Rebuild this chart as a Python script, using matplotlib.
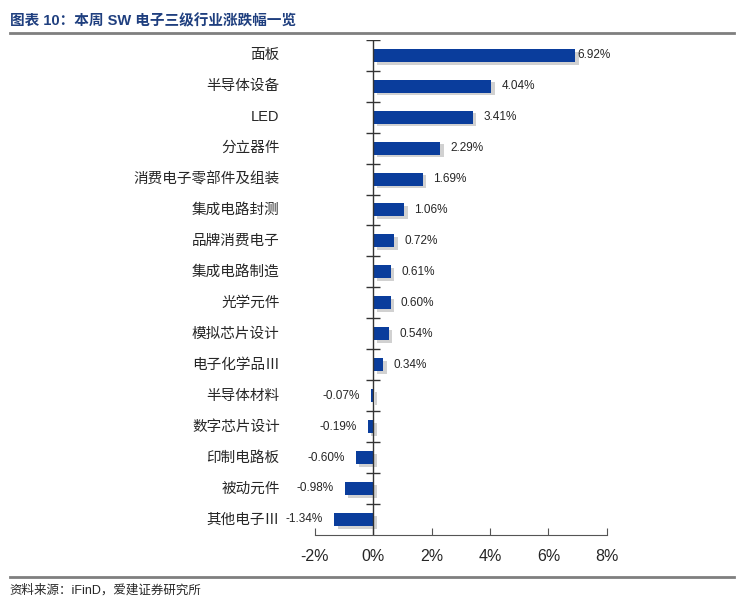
import matplotlib.pyplot as plt
import matplotlib.patheffects as pe
import numpy as np

plt.rcParams['font.family'] = ['Liberation Sans', 'Noto Sans CJK SC', 'DejaVu Sans']

# Datos del grafico
categorias = ['面板', '半导体设备', 'LED', '分立器件', '消费电子零部件及组装', '集成电路封测',
              '品牌消费电子', '集成电路制造', '光学元件', '模拟芯片设计', '电子化学品Ⅲ',
              '半导体材料', '数字芯片设计', '印制电路板', '被动元件', '其他电子Ⅲ']
valores = [6.92, 4.04, 3.41, 2.29, 1.69, 1.06, 0.72, 0.61, 0.60, 0.54, 0.34,
           -0.07, -0.19, -0.60, -0.98, -1.34]
xticks = [-2, 0, 2, 4, 6, 8]

azul = '#0a3d9c'
texto = '#262626'

fig = plt.figure(figsize=(7.53, 6.03), dpi=100)
ax = fig.add_axes([0.418, 0.113, 0.388, 0.821])

y = np.arange(len(categorias))
barras = ax.barh(y, valores, height=0.42, color=azul, zorder=3)
for b in barras:
    b.set_path_effects([pe.SimplePatchShadow(offset=(2.5, -2), shadow_rgbFace='#999999', alpha=0.45),
                        pe.Normal()])

ax.set_xlim(-2, 8)
ax.set_ylim(len(categorias) - 0.5, -0.5)

# Etiquetas de valores
for yi, v in zip(y, valores):
    if v >= 0:
        dx = 0.07 if v > 6 else 0.35
        ax.text(v + dx, yi, f'{v:.2f}%', va='center', ha='left', fontsize=8.5, color=texto)
    else:
        ax.text(v - 0.38, yi, f'{v:.2f}%', va='center', ha='right', fontsize=8.5, color=texto)

# Categorias a la izquierda
for yi, c in zip(y, categorias):
    ax.text(-0.12, yi, c, transform=ax.get_yaxis_transform(), va='center', ha='right',
            fontsize=10.5, color=texto)

# Linea del cero con marcas entre categorias
ax.axvline(0, color='#333333', lw=1, zorder=4)
ax.plot([0] * len(categorias), y - 0.5, ls='', marker='_', markersize=10,
        color='#333333', mew=1, zorder=4)

# Ejes
for s in ['left', 'right', 'top']:
    ax.spines[s].set_visible(False)
ax.spines['bottom'].set_color('#555555')
ax.set_yticks([])
ax.set_xticks(xticks)
ax.set_xticklabels([f'{t}%' for t in xticks], fontsize=11.5, color=texto)
ax.tick_params(axis='x', direction='in', length=5, color='#555555', pad=10)

# Titulo, lineas y fuente
fig.text(0.013, 0.965, '图表 10：本周 SW 电子三级行业涨跌幅一览', fontsize=10.5,
         fontweight='bold', color='#1f3f7f', va='center', ha='left')
fig.add_artist(plt.Line2D([0.013, 0.975], [0.946, 0.946], color='#7f7f7f', lw=2))
fig.add_artist(plt.Line2D([0.013, 0.975], [0.043, 0.043], color='#7f7f7f', lw=2))
fig.text(0.013, 0.021, '资料来源：iFinD，爱建证券研究所', fontsize=9, color=texto,
         va='center', ha='left')

fig.savefig('out.png', dpi=100)
